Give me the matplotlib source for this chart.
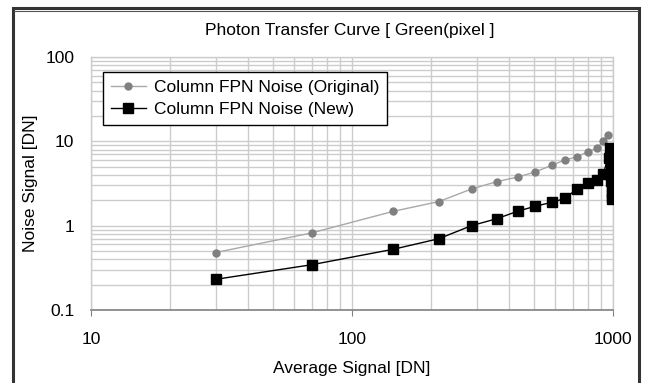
import matplotlib
matplotlib.use("Agg")
import matplotlib.pyplot as plt
from matplotlib.patches import Rectangle
from matplotlib.lines import Line2D

# ---- data ----
orig_signal = [30, 70, 144, 215, 287, 359, 433, 504, 583, 654, 726, 802, 869, 918, 959]
orig_noise = [0.48, 0.82, 1.48, 1.93, 2.72, 3.33, 3.78, 4.34, 5.2, 6.01, 6.53, 7.55, 8.28, 10.1, 11.8]

new_signal = [30, 70, 144, 215, 287, 359, 433, 504, 583, 654, 726, 802, 869, 918,
              978, 965, 983, 985, 986, 987, 987, 988, 988]
new_noise = [0.231, 0.344, 0.525, 0.70, 1.0, 1.21, 1.49, 1.70, 1.89, 2.10, 2.71, 3.22, 3.46, 4.07,
             8.3, 6.35, 5.4, 4.0, 3.4, 2.9, 2.5, 2.2, 2.05]

title = "Photon Transfer Curve [ Green(pixel ]"
xlabel = "Average Signal [DN]"
ylabel = "Noise Signal [DN]"
legend_labels = ["Column FPN Noise (Original)", "Column FPN Noise (New)"]
xticks = [10, 100, 1000]
xticklabels = ["10", "100", "1000"]
yticks = [0.1, 1, 10, 100]
yticklabels = ["0.1", "1", "10", "100"]

plt.rcParams['font.family'] = ['Liberation Sans', 'DejaVu Sans']
FS = 12.5

fig = plt.figure(figsize=(6.47, 3.83), dpi=100)
W, H = 647, 383
ax = fig.add_axes([91 / W, 1 - 310 / H, (613 - 91) / W, (310 - 57) / H])

ax.set_xscale('log')
ax.set_yscale('log')
ax.set_xlim(10, 1000)
ax.set_ylim(0.1, 100)

grid_c = '#cccccc'
ax.grid(True, which='both', color=grid_c, linewidth=1.0)
ax.set_axisbelow(True)

ax.plot(orig_signal, orig_noise, color='#a8a8a8', linewidth=1.0, marker='o',
        markersize=5, markerfacecolor='#808080', markeredgecolor='#808080', zorder=3)
ax.plot(new_signal, new_noise, color='black', linewidth=1.0, marker='s',
        markersize=6.5, markerfacecolor='black', markeredgecolor='black', zorder=4)

ax.set_xticks(xticks)
ax.set_xticklabels(xticklabels)
ax.set_yticks(yticks)
ax.set_yticklabels(yticklabels)
ax.minorticks_on()
ax.tick_params(which='minor', length=0)
ax.tick_params(which='major', length=4, color='#808080', labelsize=FS, pad=12)
ax.tick_params(axis='y', which='major', length=0, pad=12)
ax.xaxis.set_minor_formatter(matplotlib.ticker.NullFormatter())
ax.yaxis.set_minor_formatter(matplotlib.ticker.NullFormatter())

for s in ['left', 'top', 'right']:
    ax.spines[s].set_color(grid_c)
    ax.spines[s].set_linewidth(1.0)
ax.spines['bottom'].set_color('#808080')
ax.spines['bottom'].set_linewidth(1.2)

ax.set_xlabel(xlabel, fontsize=FS, labelpad=10)
ax.set_ylabel(ylabel, fontsize=FS)
ax.yaxis.set_label_coords((38 - 91) / (613 - 91), 0.5)
fig.text(350 / W, 1 - 31 / H, title, ha='center', va='center', fontsize=FS)

handles = [
    Line2D([], [], color='#a8a8a8', marker='o', markersize=5,
           markerfacecolor='#808080', markeredgecolor='#808080', linewidth=1.0),
    Line2D([], [], color='black', marker='s', markersize=6.5,
           markerfacecolor='black', markeredgecolor='black', linewidth=1.0),
]
leg = ax.legend(handles, legend_labels, loc='upper left',
                bbox_to_anchor=((103 - 91) / (613 - 91), 1 - (72 - 57) / (310 - 57)),
                fontsize=FS, frameon=True, fancybox=False, framealpha=1,
                edgecolor='black', borderpad=0.45, handlelength=2.0,
                handletextpad=0.5, labelspacing=0.4, borderaxespad=0)
leg.get_frame().set_linewidth(1.0)

# outer chart frame
fig.add_artist(Rectangle((13 / W, -0.05), (639 - 13) / W, 1.05 - 8.5 / H,
                         transform=fig.transFigure, fill=False,
                         edgecolor='#333333', linewidth=2.2))
fig.add_artist(Line2D([14 / W, 638 / W], [1 - 11 / H, 1 - 11 / H],
                      transform=fig.transFigure, color='#555555', linewidth=0.8))

fig.savefig('out.png', dpi=100)
